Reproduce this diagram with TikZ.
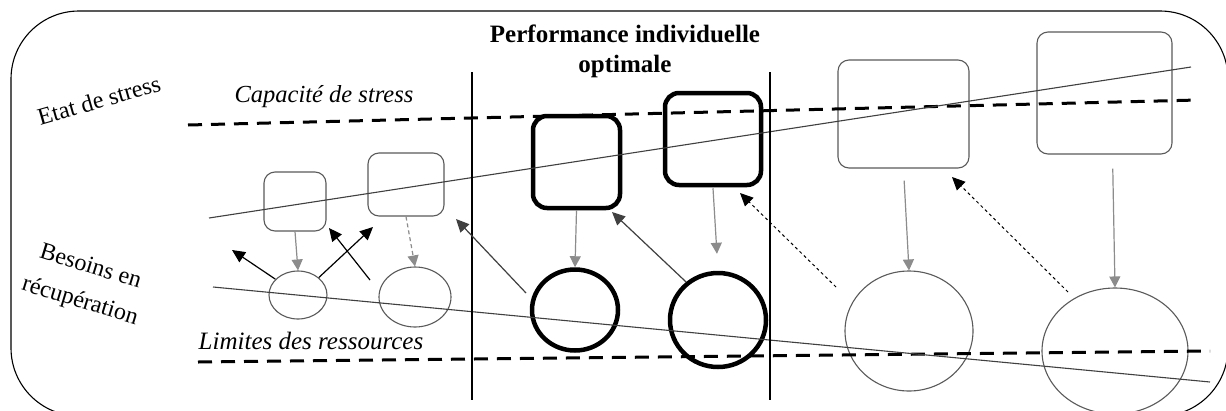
\documentclass[tikz,border=0pt]{standalone}
\usepackage{fontspec}
\setmainfont{Liberation Serif}
\usetikzlibrary{arrows.meta,shapes.geometric}
\definecolor{boxgray}{HTML}{5A5A5A}
\definecolor{linegray}{HTML}{404040}
\definecolor{arrgray}{HTML}{8C8C8C}
\tikzset{
  thinbox/.style={draw=boxgray,line width=1.1pt,rounded corners=11pt,minimum width=#1,inner sep=0pt},
  thickbox/.style={draw=black,line width=4.5pt,rounded corners=14pt,inner sep=0pt},
  thinell/.style={ellipse,draw=boxgray,line width=1.1pt,inner sep=0pt},
  thickell/.style={ellipse,draw=black,line width=4.5pt,inner sep=0pt},
  limit/.style={line width=3pt,dash pattern=on 14pt off 9pt},
  trend/.style={draw=linegray,line width=1.1pt},
  downarr/.style={draw=arrgray,line width=1.2pt,-{Triangle[length=11pt,width=11pt]}},
  uparr/.style={draw=black,line width=1.2pt,-{Triangle[length=13pt,width=12pt]}},
  dotarr/.style={draw=black,line width=1pt,dash pattern=on 3pt off 3pt,-{Triangle[length=13pt,width=12pt]}},
  sep/.style={line width=2.5pt},
  lab/.style={font=\fontsize{24}{36}\selectfont,align=center,inner sep=0pt},
}
\begin{document}
\begin{tikzpicture}[x=1pt,y=-1pt]
\useasboundingbox (0,0) rectangle (1226,410);
\clip (0,0) rectangle (1226,410);
\fill[white] (0,0) rectangle (1226,410);
% frame
\draw[line width=1.1pt,rounded corners=68pt] (11,11) rectangle (1228,416);
% labels
\node[lab,rotate=16] (etat) at (99,100) {Etat de stress};
\node[lab,rotate=-17] (besoins) at (85,285) {Besoins en\\récupération};
\node[lab,font=\fontsize{24.5}{36}\selectfont\itshape] (capa) at (324,97) {Capacité de stress};
\node[lab,font=\fontsize{25}{36}\selectfont\itshape] (limi) at (311,341) {Limites des ressources};
\node[lab,font=\fontsize{25}{30}\selectfont\bfseries] (perf) at (625,51) {Performance individuelle\\optimale};
% coordinates for lines
\coordinate (cs1) at (188,125); \coordinate (cs2) at (1198,100);
\coordinate (lr1) at (198,362); \coordinate (lr2) at (1210,351);
\coordinate (tu1) at (209,218); \coordinate (tu2) at (1191,67);
\coordinate (tl1) at (213,287); \coordinate (tl2) at (1210,382);
\coordinate (v1t) at (472,72); \coordinate (v1b) at (472,400);
\coordinate (v2t) at (770,72); \coordinate (v2b) at (770,400);
% boxes
\node[thinbox=62pt,minimum height=59pt] (b1) at (295,201.5) {};
\node[thinbox=76pt,minimum height=63pt] (b2) at (406,184.5) {};
\node[thickbox,minimum width=87pt,minimum height=92pt] (b3) at (576.5,162) {};
\node[thickbox,minimum width=96pt,minimum height=92pt] (b4) at (713,139) {};
\node[thinbox=131pt,minimum height=108pt] (b5) at (903.5,114) {};
\node[thinbox=135pt,minimum height=122pt] (b6) at (1104.5,93) {};
% ellipses
\node[thinell,minimum width=58pt,minimum height=48pt] (e1) at (298,295) {};
\node[thinell,minimum width=72pt,minimum height=60pt] (e2) at (415,297) {};
\node[thickell,minimum width=86pt,minimum height=81pt] (e3) at (575,310) {};
\node[thickell,minimum width=96pt,minimum height=94pt] (e4) at (718,320) {};
\node[thinell,minimum width=128pt,minimum height=120pt] (e5) at (909,331) {};
\node[thinell,minimum width=146pt,minimum height=126pt] (e6) at (1115,351) {};
% limit and trend lines
\draw[limit] (cs1) -- (cs2);
\draw[limit] (lr1) -- (lr2);
\draw[trend] (tu1) -- (tu2);
\draw[trend] (tl1) -- (tl2);
\draw[sep] (v1t) -- (v1b);
\draw[sep] (v2t) -- (v2b);
% gray down arrows
\draw[downarr] (b1.south) -- (e1.north);
\draw[downarr,dash pattern=on 4pt off 3pt] (b2.south) -- (e2.north);
\draw[downarr] (b3.south) -- (e3.north);
\draw[downarr,shorten >=17pt] ([yshift=-1pt]b4.south) -- (e4.north);
\draw[downarr,shorten <=12pt] (b5.south) -- (e5.north);
\draw[downarr,shorten <=14pt] ([xshift=8pt]b6.south) -- (e6.north);
% up arrows
\coordinate (t1) at (232,250);
\coordinate (t2) at (373,227);
\coordinate (s3) at (370,280); \coordinate (t3) at (329,228);
\coordinate (s4) at (526,293); \coordinate (t4) at (456,219);
\coordinate (t5) at (612,212);
\coordinate (s6) at (836,287); \coordinate (t6) at (740,193);
\coordinate (s7) at (1068,292); \coordinate (t7) at (952,177);
\draw[uparr] (e1.145) -- (t1);
\draw[uparr] (e1.40) -- (t2);
\draw[uparr] (s3) -- (t3);
\draw[uparr,draw=linegray] (s4) -- (t4);
\draw[uparr,draw=linegray] (e4.130) -- (t5);
\draw[dotarr] (s6) -- (t6);
\draw[dotarr] (s7) -- (t7);
\end{tikzpicture}
\end{document}
